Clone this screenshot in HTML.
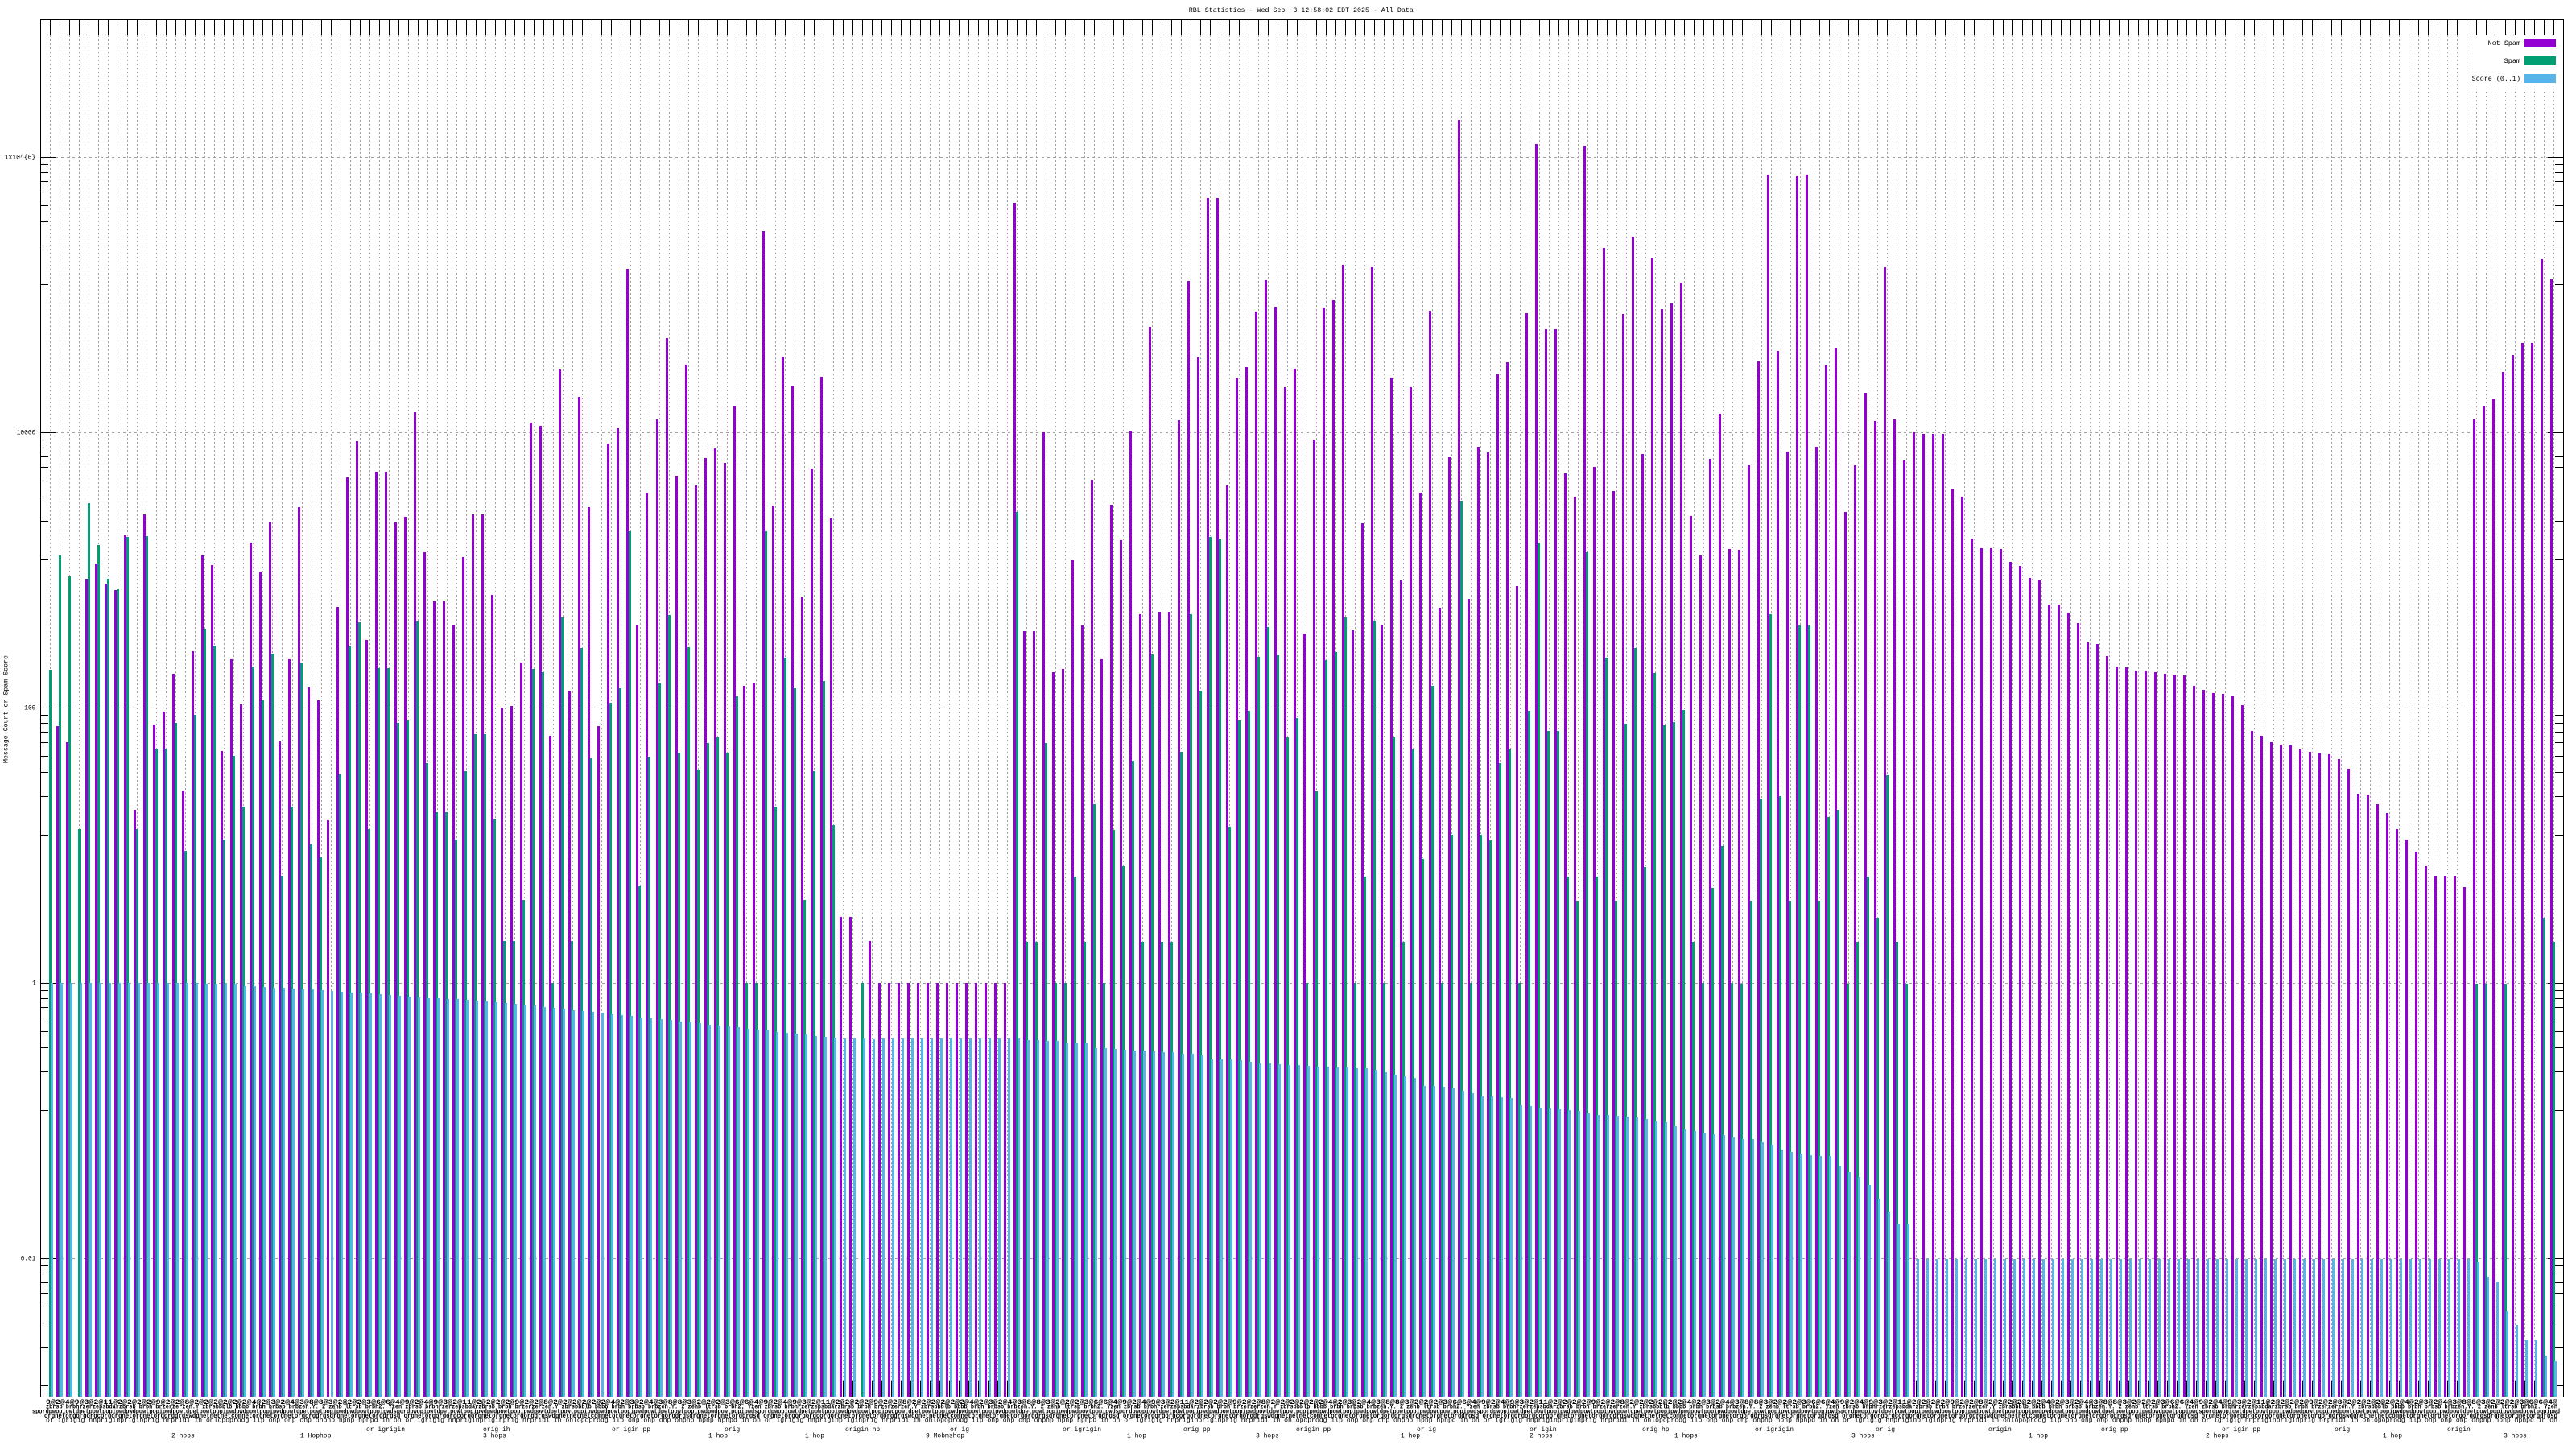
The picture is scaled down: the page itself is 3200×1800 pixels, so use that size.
<!DOCTYPE html>
<html><head><meta charset="utf-8">
<style>
html,body{margin:0;padding:0;background:#fff;overflow:hidden;width:3200px;height:1800px;}
svg{display:block;}
text{font-family:"Liberation Mono","DejaVu Sans Mono",monospace;font-size:8.2px;fill:#000;}
.xl{font-size:8px;}
.xd{font-size:8px;font-weight:bold;}
</style></head>
<body>
<svg id="c" width="3200" height="1800" viewBox="0 0 3200 1800" xmlns="http://www.w3.org/2000/svg" shape-rendering="crispEdges">
<rect width="3200" height="1800" fill="#fff"/>
<g id="grid"></g>
<g id="ticks"></g>
<g id="bars"></g>
<rect x="50.5" y="24.5" width="3134" height="1711" fill="none" stroke="#000" stroke-width="1"/>
<rect x="3068" y="44" width="115" height="66" fill="#fff"/>
<rect x="3136" y="48" width="39" height="11" fill="#9400D3"/>
<rect x="3136" y="70" width="39" height="11" fill="#009E73"/>
<rect x="3136" y="92" width="39" height="11" fill="#56B4E9"/>
<text x="3090.7" y="56" textLength="40.3" lengthAdjust="spacingAndGlyphs">Not Spam</text>
<text x="3110.7" y="78" textLength="20.3" lengthAdjust="spacingAndGlyphs">Spam</text>
<text x="3070.7" y="100" textLength="60.3" lengthAdjust="spacingAndGlyphs">Score (0..1)</text>
<text x="1476.8" y="15" textLength="279" lengthAdjust="spacingAndGlyphs" style="white-space:pre">RBL Statistics - Wed Sep  3 12:58:02 EDT 2025 - All Data</text>
<text x="5.7" y="197.7" textLength="38.6" lengthAdjust="spacingAndGlyphs">1x10^{6}</text>
<text x="20.7" y="539.7" textLength="23.6" lengthAdjust="spacingAndGlyphs">10000</text>
<text x="30.3" y="881.7" textLength="14" lengthAdjust="spacingAndGlyphs">100</text>
<text x="40" y="1223.7">1</text>
<text x="25.7" y="1565.7" textLength="18.6" lengthAdjust="spacingAndGlyphs">0.01</text>
<text transform="translate(9.6,881) rotate(-90)" text-anchor="middle" textLength="134" lengthAdjust="spacingAndGlyphs">Message Count or Spam Score</text>

<text class="xd" x="57" y="1744" textLength="3120" lengthAdjust="spacingAndGlyphs">9@2@4@9@3@2@11@2@2@2@2@9@2@2@8@2@2@2@2@2@2@4@2@3@2@4@3@8@8@3@2@2@2@3@6@6@4@9@2@4@9@3@2@11@2@2@2@2@9@2@2@8@2@2@2@2@2@2@4@2@3@2@4@3@8@8@3@2@2@2@3@6@6@4@9@2@4@9@3@2@11@2@2@2@2@9@2@2@8@2@2@2@2@2@2@4@2@3@2@4@3@8@8@3@2@2@2@3@6@6@4@9@2@4@9@3@2@11@2@2@2@2@9@2@2@8@2@2@2@2@2@2@4@2@3@2@4@3@8@8@3@2@2@2@3@6@6@4@9@2@4@9@3@2@11@2@2@2@2@9@2@2@8@2@2@2@2@2@2@4@2@3@2@4@3@8@8@3@2@2@2@3@6@6@4@9@2@4@9@3@2@11@2@2@2@2@9@2@2@8@2@2@2@2@2@2@4@2@3@2@4@3@8@8@3@2@2@2@3@6@6@4@9@2@4@9@3@2@11@2@2@2@2@9@2@2@8@2@2@2@2@2@2@4@2@3@2@4@3@8@8@3@2@2@2@3@6@6@4@</text>
<text class="xd" x="57" y="1749.7" textLength="3120" lengthAdjust="spacingAndGlyphs">zbrsb brbhrzerzepsbdarzbrsb brbh brzerzerzen.Y zbrsbbblb bbbb brbh brbsb brbzen.Y. 2 zenb ltrsb brbh2. Yzen zbrsb brbhrzerzepsbdarzbrsb brbh brzerzerzen.Y zbrsbbblb bbbb brbh brbsb brbzen.Y. 2 zenb ltrsb brbh2. Yzen zbrsb brbhrzerzepsbdarzbrsb brbh brzerzerzen.Y zbrsbbblb bbbb brbh brbsb brbzen.Y. 2 zenb ltrsb brbh2. Yzen zbrsb brbhrzerzepsbdarzbrsb brbh brzerzerzen.Y zbrsbbblb bbbb brbh brbsb brbzen.Y. 2 zenb ltrsb brbh2. Yzen zbrsb brbhrzerzepsbdarzbrsb brbh brzerzerzen.Y zbrsbbblb bbbb brbh brbsb brbzen.Y. 2 zenb ltrsb brbh2. Yzen zbrsb brbhrzerzepsbdarzbrsb brbh brzerzerzen.Y zbrsbbblb bbbb brbh brbsb brbzen.Y. 2 zenb ltrsb brbh2. Yzen zbrsb brbhrzerzepsbdarzbrsb brbh brzerzerzen.Y zbrsbbblb bbbb brbh brbsb brbzen.Y. 2 zenb ltrsb brbh2. Yzen</text>
<text class="xd" x="40" y="1755.3" textLength="3140" lengthAdjust="spacingAndGlyphs">spordpwopiowtdpetpowtpopipwdpwdpowtpopipwdpowtdpetpowtpopipwdpwdpowtpopipwdpowtdpetpowtpopipwdpwdpowtpopipwdspordpwopiowtdpetpowtpopipwdpwdpowtpopipwdpowtdpetpowtpopipwdpwdpowtpopipwdpowtdpetpowtpopipwdpwdpowtpopipwdspordpwopiowtdpetpowtpopipwdpwdpowtpopipwdpowtdpetpowtpopipwdpwdpowtpopipwdpowtdpetpowtpopipwdpwdpowtpopipwdspordpwopiowtdpetpowtpopipwdpwdpowtpopipwdpowtdpetpowtpopipwdpwdpowtpopipwdpowtdpetpowtpopipwdpwdpowtpopipwdspordpwopiowtdpetpowtpopipwdpwdpowtpopipwdpowtdpetpowtpopipwdpwdpowtpopipwdpowtdpetpowtpopipwdpwdpowtpopipwdspordpwopiowtdpetpowtpopipwdpwdpowtpopipwdpowtdpetpowtpopipwdpwdpowtpopipwdpowtdpetpowtpopipwdpwdpowtpopipwdspordpwopiowtdpetpowtpopipwdpwdpowtpopipwdpowtdpetpowtpopipwdpwdpowtpopipwdpowtdpetpowtpopipwdpwdpowtpopipwd</text>
<text class="xd" x="55" y="1761" textLength="3122" lengthAdjust="spacingAndGlyphs">orgnetorgorgorgcorgorgnetorgnetorgorgdrgswdgnetnetnetcomnetorgnetorgnetorgorgdrgsdrgnetorgnetorgdrgsd orgnetorgorgorgcorgorgnetorgnetorgorgdrgswdgnetnetnetcomnetorgnetorgnetorgorgdrgsdrgnetorgnetorgdrgsd orgnetorgorgorgcorgorgnetorgnetorgorgdrgswdgnetnetnetcomnetorgnetorgnetorgorgdrgsdrgnetorgnetorgdrgsd orgnetorgorgorgcorgorgnetorgnetorgorgdrgswdgnetnetnetcomnetorgnetorgnetorgorgdrgsdrgnetorgnetorgdrgsd orgnetorgorgorgcorgorgnetorgnetorgorgdrgswdgnetnetnetcomnetorgnetorgnetorgorgdrgsdrgnetorgnetorgdrgsd orgnetorgorgorgcorgorgnetorgnetorgorgdrgswdgnetnetnetcomnetorgnetorgnetorgorgdrgsdrgnetorgnetorgdrgsd orgnetorgorgorgcorgorgnetorgnetorgorgdrgswdgnetnetnetcomnetorgnetorgnetorgorgdrgsdrgnetorgnetorgdrgsd</text>
<text class="xl" x="57" y="1766.7" textLength="3120" lengthAdjust="spacingAndGlyphs">or igrigig hnpriginpriginprig hrpridi ih ohlopoprodg ilp ohp ohp ohp ohpnp hpnp hpnpd ih oh or igrigig hnpriginpriginprig hrpridi ih ohlopoprodg ilp ohp ohp ohp ohpnp hpnp hpnpd ih oh or igrigig hnpriginpriginprig hrpridi ih ohlopoprodg ilp ohp ohp ohp ohpnp hpnp hpnpd ih oh or igrigig hnpriginpriginprig hrpridi ih ohlopoprodg ilp ohp ohp ohp ohpnp hpnp hpnpd ih oh or igrigig hnpriginpriginprig hrpridi ih ohlopoprodg ilp ohp ohp ohp ohpnp hpnp hpnpd ih oh or igrigig hnpriginpriginprig hrpridi ih ohlopoprodg ilp ohp ohp ohp ohpnp hpnp hpnpd ih oh or igrigig hnpriginpriginprig hrpridi ih ohlopoprodg ilp ohp ohp ohp ohpnp hpnp hpnpd ih oh</text>
<text class="xl" x="455" y="1778">or igrigin</text>
<text class="xl" x="600" y="1778">orig ih</text>
<text class="xl" x="760" y="1778">or igin pp</text>
<text class="xl" x="900" y="1778">orig</text>
<text class="xl" x="1050" y="1778">origin hp</text>
<text class="xl" x="1180" y="1778">or ig</text>
<text class="xl" x="1320" y="1778">or igrigin</text>
<text class="xl" x="1470" y="1778">orig pp</text>
<text class="xl" x="1610" y="1778">origin pp</text>
<text class="xl" x="1760" y="1778">or ig</text>
<text class="xl" x="1900" y="1778">or igin</text>
<text class="xl" x="2040" y="1778">orig hp</text>
<text class="xl" x="2180" y="1778">or igrigin</text>
<text class="xl" x="2330" y="1778">or ig</text>
<text class="xl" x="2470" y="1778">origin</text>
<text class="xl" x="2610" y="1778">orig pp</text>
<text class="xl" x="2760" y="1778">or igin pp</text>
<text class="xl" x="2900" y="1778">orig</text>
<text class="xl" x="3040" y="1778">origin</text>
<text class="xl" x="213" y="1785.5">2 hops</text>
<text class="xl" x="373" y="1785.5">1 Hophop</text>
<text class="xl" x="600" y="1785.5">3 hops</text>
<text class="xl" x="880" y="1785.5">1 hop</text>
<text class="xl" x="1000" y="1785.5">1 hop</text>
<text class="xl" x="1150" y="1785.5">9 Mobmshop</text>
<text class="xl" x="1400" y="1785.5">1 hop</text>
<text class="xl" x="1560" y="1785.5">3 hops</text>
<text class="xl" x="1740" y="1785.5">1 hop</text>
<text class="xl" x="1900" y="1785.5">2 hops</text>
<text class="xl" x="2080" y="1785.5">1 hops</text>
<text class="xl" x="2300" y="1785.5">3 hops</text>
<text class="xl" x="2520" y="1785.5">1 hop</text>
<text class="xl" x="2740" y="1785.5">2 hops</text>
<text class="xl" x="2960" y="1785.5">1 hop</text>
<text class="xl" x="3110" y="1785.5">3 hops</text>
</svg>
<script>
(function(){
var NS="http://www.w3.org/2000/svg";
function el(p,tag,a){var e=document.createElementNS(NS,tag);for(var k in a)e.setAttribute(k,a[k]);p.appendChild(e);return e;}
function rep(v,n){var r=[];for(var i=0;i<n;i++)r.push(v);return r;}
var z=function(v){return v?195+(v-63)/0.974:0;};
var N=260;
function X(k){return 62.3+12.008*k;}

var P0=[0,901.6,922,0,719.4,699.7,724.5,733.4,665.3,1006,
639.2,900.3,883.8,836.6,981.9,808.6,689.5,701.6,933.4,818.8,
874.8,673.6,709.9,648,921.3,818.8,630.3,853.8,869.7,1018.8,
753.8,593.3,548,794.6,585.7,585.7,649.4,641.7,511.8,685.7,
746.8,746.8,775.5,692,639.2,639.2,738.5,878.7,877.4,822.6,
525.2,529,913.7,458.9,857.6,493.3,630.3,901.6,551.3,532.2,
334,775.5,611.8,520.7,420,590.8,453.2,602.9,569.1,557,
574.8,504.1,851.9,848.1,287,628.3,443,480,741.7,581.8,
467.8,643.6,1138.5,1138.5,0,1169,1221];
var G0=[831.5,689.5,715.6,1029.6,624.5,677.4,719.4,732,666.6,1029.6,
666,929.6,929.6,898.4,1057,887.6,780.6,801.6,1043,939,
1001.6,827.7,869.7,811.8,1087.6,1001.6,823.9,1049.4,1065.3,0,
962,802.9,773,1029.6,829.6,829.6,898.4,895.2,772.3,947.5,
1009,1009,1043,958.3,912.4,912.4,1018.2,1169,1169,1117.5,
830.9,834.7,1221,766.6,1169,804.8,942.4,0,872.9,855.1,
660.2,1100.3,940.4,848.7,764,934.7,803.5,956.4,923.2,915.6,
934.7,864.6,1221,1221,659.6,1001.6,816.9,854.5,1117.5,958.3,
845.5,1024.5,0,0,1221,0,0];
var P1=rep(1221,13).concat([
251.5,784.3,784.3,537,834.6,830.5,696,777,596.4,819.2,
627.2,671.4,535.9,762.8,405.5,759.7,759.7,521.5,349,443.5,
246.3,246.3,602.6,470.2,455.8,387,348,380.8,481.4,457.8,
787.4,546.1,381.9,372.6,328.5,783.3,649.8,331.6,776.1,469.1,
720.7,481.4,611.8,386,754.5,567.7,148.8,744.3,555.4,561.5,
465,449.6,727.9,389,178.6,408.6,408.6,588.2,617,180.6,
580,308,609.8,390,293.6,563.6,320.3,384,376.7,351,
640.6,689.9,569.7,514.3,681.7]);
var G1=rep(0,13).concat([
635.5,1170.4,1170.4,923,1221,1221,1089.2,1170.4,998.9,1221,
1030.7,1075.9,944.5,1170.4,813.1,1170.4,1170.4,934.2,762.8,858.3,
667.3,670.4,1026.6,895.2,882.9,816.1,779.2,814.1,915.7,892.1,
1221,982.5,820.3,810,766.9,1221,1089.2,771,1221,915.7,
1170.4,931,1066.7,852.1,1221,1036.9,622.1,1221,1036.9,1044.1,
947.6,931,1221,882.9,674.5,907.5,907.5,1089.2,1119,685.8,
1089.2,817.2,1119,899.3,804.9,1077,835.7,901.4,897.3,881.9,
1170.4,1221,1102.6,1051.3,1221]);
var P2z=[538,436,310,84,298,419,86,84,414,315,
294,493,436,348,382,196,381,430,396,398,
398,398,465,474,525,536,536,537,553,558,
572,574,605,605,614,627,650,652,667,680,
681,684,684,686,688,689,690,703,708,712,
713,715,726,757,763,771,774,775,780,783,
785,786,792,803,833,834,846,857,876,889,
904,921,933,933,933,946,381,364,356,323,
303,288,288,187,211];
var G2z=[1063,963,839,616,836,963,630,630,963,862,
853,1063,1013,934,983,811,1013,1063].concat(rep(0,58)).concat([1063,1063,0,1063,0,0,0,983,1013]);
var B0=[];
var t=[1224.5,1225,1226,1226.5,1227,1228,1228.5,1229,1230,1231,1232,1232.5,1233,1234,1235,1236,1237,1238,1239,1239.5,1240,1240.5,1241,1242,1243,1244,1245,1245.5];
for(var k=0;k<=85;k++){var v;
 if(k<=15)v=1221;else if(k<=19)v=1222;
 else if(k<=47)v=t[k-20];
 else if(k<=80)v=1245.5+1.29*(k-47);
 else v=[1289,1289.5,1290,1290,1290.5][k-81];
 B0.push(v);}
var B1z=rep(1130,15).concat([
1131,1131,1132,1132,1135,1135,1135,1141,1141,
1142,1143,1144,1144,1145,1146,1146,1148,1148,1150,
1155,1155,1155,1156,1158,1160,1160,1161,1162,1162,
1163,1164,1164,1165,1165,1166,1166,1168,1170,1173,
1175,1177,1187,1187,1188,1190,1193,1196,1200,1200,
1201,1202,1210,1211,1213,1214,1215,1216,1217,1220,
1222,1222,1223,1224,1225,1227,1230,1231,1236,1240,
1242,1244,1245,1246,1249]);
var B2z=[1251,1251,1255,1258,1264,1267,1269,1271,1272,1272,
1283,1291,1297,1307,1323,1339,1354,1354].concat(rep(1396,58)).concat([1400,1418,1424,1460,1476,1494,1494,1513,1520]);

var P=P0.concat(P1,P2z.map(z));
var G=G0.concat(G1,G2z.map(z));
var B=B0.concat(B1z.map(z),B2z.map(z));

var grid=document.getElementById('grid');
var vd='';
for(var k=0;k<N;k++){var x=Math.round(X(k))+0.5;vd+='M'+x+' 24V1735';}
el(grid,'path',{d:vd,stroke:'#a0a0a0','stroke-dasharray':'2 3',fill:'none'});
var majors=[195,537,879,1221,1563];
var hd='';
majors.forEach(function(y){hd+='M69 '+(y+0.5)+'H3165';});
el(grid,'path',{d:hd,stroke:'#a0a0a0','stroke-dasharray':'3 4',fill:'none'});

var ticks=document.getElementById('ticks');
var td='';
for(var k=0;k<N;k++){var x=Math.round(X(k))+0.5;td+='M'+x+' 24V43M'+x+' 1735V1716';}
majors.forEach(function(y){td+='M50 '+(y+0.5)+'H69M3165 '+(y+0.5)+'H3184';});
var offs=[9.3,19.3,30.3,43.3,60.3,80.3,110.3,158.3];
majors.forEach(function(M){offs.forEach(function(o){var yy=Math.round(M+o);if(yy<1735)td+='M50 '+(yy+0.5)+'H60M3174 '+(yy+0.5)+'H3184';});});
el(ticks,'path',{d:td,stroke:'#000',fill:'none'});

var bars=document.getElementById('bars');
var pd='',gd='',bd='';
for(var k=0;k<N;k++){
 var p=Math.round(X(k)-4.3);
 if(P[k]){var tp=Math.round(P[k]);pd+='M'+p+' '+tp+'h3V1735h-3z';}
 if(G[k]){var tg=Math.round(G[k]);gd+='M'+(p+3)+' '+tg+'h3V1735h-3z';}
 if(B[k]){var tb=Math.round(B[k]);bd+='M'+(p+5)+' '+tb+'h3V1735h-3z';}
}
el(bars,'path',{d:pd,fill:'#9400D3'});
el(bars,'path',{d:gd,fill:'#009E73'});
el(bars,'path',{d:bd,fill:'#56B4E9'});
})();
</script>
</body></html>
